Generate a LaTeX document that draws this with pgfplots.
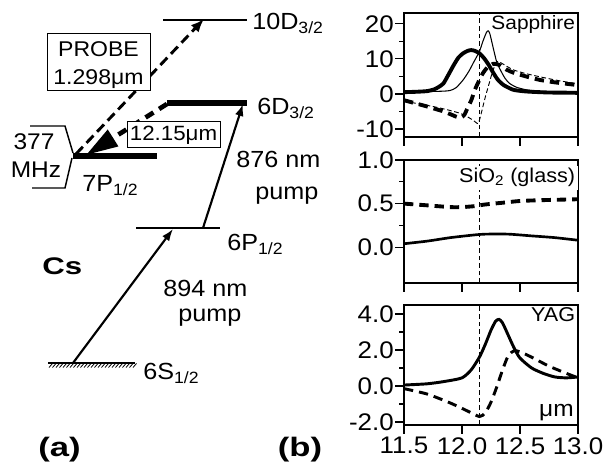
\documentclass[border=0pt]{standalone}
\usepackage{fontspec}
\setmainfont[FakeStretch=1.08]{Liberation Sans}
\newfontfamily\labfont[FakeStretch=1.3]{Liberation Sans}
\usepackage{pgfplots}
\pgfplotsset{compat=1.18}
\usetikzlibrary{arrows.meta}
\newcommand\fs[1]{\fontsize{#1}{#1}\selectfont}
\pgfplotstableread{
x y
11.50 0.5
11.60 0.6
11.70 0.8
11.76 1.3
11.80 2.0
11.84 3.0
11.88 5.3
11.93 8.3
11.97 10.4
12.01 11.6
12.05 12.3
12.08 12.5
12.11 12.3
12.15 11.6
12.19 10.2
12.23 8.3
12.27 6.0
12.31 4.0
12.36 2.5
12.44 1.2
12.52 0.8
12.60 0.6
12.75 0.4
12.90 0.35
13.00 0.3
}\sapThickSolid
\pgfplotstableread{
x y
11.50 0.4
11.65 0.6
11.75 0.7
11.85 0.8
11.90 1.0
11.95 1.8
12.01 4.0
12.06 6.5
12.10 9.0
12.15 12.1
12.18 15.0
12.21 17.5
12.225 18.0
12.24 17.2
12.27 13.0
12.30 9.0
12.33 6.9
12.37 4.5
12.41 3.0
12.47 1.9
12.55 1.2
12.65 0.8
12.80 0.5
13.00 0.4
}\sapThinSolid
\pgfplotstableread{
x y
11.50 -1.8
11.60 -2.7
11.70 -3.6
11.77 -4.3
11.84 -5.0
11.90 -5.8
11.95 -6.5
11.99 -6.8
12.02 -6.0
12.04 -4.6
12.08 -1.8
12.11 1.1
12.15 4.0
12.18 5.9
12.22 7.6
12.27 8.6
12.32 8.3
12.38 7.0
12.44 6.1
12.55 5.0
12.67 4.0
12.80 3.3
13.00 2.5
}\sapThickDash
\pgfplotstableread{
x y
11.50 -2.0
11.62 -2.8
11.75 -3.6
11.87 -4.5
11.98 -5.5
12.05 -6.6
12.10 -7.6
12.14 -8.4
12.17 -5.0
12.20 -1.0
12.23 2.5
12.26 6.0
12.29 8.6
12.31 9.3
12.35 8.6
12.44 6.9
12.55 5.8
12.67 4.9
12.80 4.0
12.90 3.4
13.00 2.9
}\sapThinDash
\pgfplotstableread{
x y
11.5 0.50
11.7 0.48
11.9 0.46
12.0 0.46
12.1 0.47
12.2 0.49
12.35 0.51
12.5 0.53
12.7 0.54
13.0 0.55
}\sioDash
\pgfplotstableread{
x y
11.5 0.04
11.7 0.07
11.9 0.11
12.1 0.14
12.2 0.15
12.4 0.15
12.6 0.13
12.8 0.11
13.0 0.08
}\sioSolid
\pgfplotstableread{
x y
11.50 0.05
11.70 0.12
11.85 0.25
12.00 0.45
12.08 0.9
12.15 1.6
12.20 2.3
12.25 3.1
12.29 3.6
12.32 3.7
12.35 3.5
12.40 2.8
12.45 2.1
12.50 1.55
12.60 1.0
12.70 0.7
12.80 0.5
12.90 0.45
13.00 0.5
}\yagSolid
\pgfplotstableread{
x y
11.50 -0.15
11.70 -0.45
11.90 -0.95
12.05 -1.4
12.15 -1.7
12.20 -1.5
12.25 -0.9
12.30 -0.05
12.35 0.9
12.40 1.7
12.45 1.95
12.50 1.9
12.60 1.6
12.75 1.1
12.90 0.7
13.00 0.45
}\yagDash
\begin{document}
\begin{tikzpicture}[x=0.75pt,y=0.75pt]
\useasboundingbox (0,0) rectangle (608,470);
\pgfplotsset{
  myax/.style={
    scale only axis, width=130.5pt, xmin=11.5, xmax=13,
    xtick={11.5,12,12.5,13}, tick align=outside, tick pos=left,
    major tick length=6.5pt, minor tick length=3.5pt, minor y tick num=1,
    every tick/.style={black, line width=0.9pt},
    axis line style={line width=1.1pt},
    yticklabel style={font=\fs{18}, inner sep=1pt},
    xticklabel style={font=\fs{18}, inner sep=2.5pt},
    anchor=south west,
  },
  thicksolid/.style={black, line width=2.9pt, smooth, tension=0.4},
  thinsolid/.style={black, line width=0.8pt, smooth, tension=0.4},
  thickdash/.style={black, line width=2.9pt, dash pattern=on 7pt off 4.5pt, smooth, tension=0.4},
  thindash/.style={black, line width=0.7pt, dash pattern=on 3.5pt off 2pt, smooth, tension=0.4},
  vline/.style={black, line width=0.7pt, dash pattern=on 3.5pt off 2.2pt},
}
% Sapphire
\begin{axis}[myax, at={(303pt,249.75pt)}, height=93pt, ymin=-12.3, ymax=23.1,
  ytick={-10,0,10,20}, yticklabels={-10,0,10,20}, xticklabels={}]
\addplot[vline] coordinates {(12.15,-12.3) (12.15,23.1)};
\addplot[thinsolid] table {\sapThinSolid};
\addplot[thindash] table {\sapThinDash};
\addplot[thickdash] table {\sapThickDash};
\addplot[thicksolid] table {\sapThickSolid};
\node[anchor=north east, font=\fs{14.5}, inner sep=2pt] at (rel axis cs:1,1) {Sapphire};
\end{axis}
% SiO2
\begin{axis}[myax, at={(303pt,140.25pt)}, height=92.25pt, ymin=-0.41, ymax=1.0,
  ytick={0,0.5,1}, yticklabels={0.0,0.5,1.0}, xticklabels={}]
\addplot[vline] coordinates {(12.15,-0.41) (12.15,1.0)};
\addplot[thickdash] table {\sioDash};
\addplot[black, line width=2pt, smooth, tension=0.4] table {\sioSolid};
\node[anchor=north east, font=\fs{15}, inner sep=2pt, fill=white, yshift=-4pt] at (rel axis cs:1,1) {SiO\textsubscript{2} (glass)};
\end{axis}
% YAG
\begin{axis}[myax, at={(303pt,33.75pt)}, height=90pt, ymin=-2.17, ymax=4.5,
  ytick={-2,0,2,4}, yticklabels={-2.0,0.0,2.0,4.0}, xticklabels={11.5,12.0,12.5,13.0}]
\addplot[vline] coordinates {(12.15,-2.17) (12.15,4.5)};
\addplot[black, line width=2.2pt, smooth, tension=0.4] table {\yagSolid};
\addplot[black, line width=2.2pt, dash pattern=on 7pt off 4.5pt, smooth, tension=0.4] table {\yagDash};
\node[anchor=north east, font=\fs{15}, inner sep=2pt] at (rel axis cs:1,1) {YAG};
\node[anchor=south east, font=\fs{17}, inner sep=3pt] at (rel axis cs:1,0) {μm};
\end{axis}
% ---------- energy level diagram (a)
\draw[line width=1.5pt] (163,450) -- (247,450);
\draw[line width=3.8pt] (167,367) -- (247,367);
\draw[line width=3.8pt] (73,314) -- (157,314);
\draw[line width=1.5pt] (136,242) -- (220,242);
\draw[line width=1.5pt] (48,107) -- (135,107);
\foreach \i in {0,...,24} {\draw[line width=0.6pt] (49+3.5*\i,102.5) -- (52.5+3.5*\i,106.5);}
% level labels
\node[anchor=base west, font=\fs{17.5}, inner sep=0] at (252,440) {10D\textsubscript{3/2}};
\node[anchor=base west, font=\fs{17.5}, inner sep=0] at (257,355) {6D\textsubscript{3/2}};
\node[anchor=base west, font=\fs{17.5}, inner sep=0] at (82,278) {7P\textsubscript{1/2}};
\node[anchor=base west, font=\fs{17.5}, inner sep=0] at (227,219) {6P\textsubscript{1/2}};
\node[anchor=base west, font=\fs{17.5}, inner sep=0] at (143,90) {6S\textsubscript{1/2}};
% hyperfine bracket
\draw[line width=1.1pt] (30,344) -- (65,344) -- (73,317);
\draw[line width=1.1pt] (32,282) -- (65,282) -- (72,312);
\node[anchor=base, font=\fs{17}, inner sep=0] at (34,320) {377};
\node[anchor=base, font=\fs{17}, inner sep=0] at (36,292) {MHz};
% probe arrow
\draw[line width=2.2pt, dash pattern=on 7.5pt off 4pt, -{Latex[length=10pt,width=8pt]}] (76,316) -- (204,451);
% probe box
\draw[line width=0.7pt, fill=white] (47,380) rectangle (150,437);
\node[anchor=base, font=\fs{16}, inner sep=0] at (98.5,413) {PROBE};
\node[anchor=base, font=\fs{16}, inner sep=0] at (98.5,385) {1.298μm};
% 12.15 um arrow
\draw[line width=3.5pt, dash pattern=on 7pt off 5pt, -{Triangle[length=24pt,width=14pt]}] (167,366) -- (86,315);
\draw[line width=0.7pt, fill=white] (127,323) rectangle (220,349);
\node[anchor=base, font=\fs{15.5}, inner sep=0] at (173.5,329) {12.15μm};
% pump arrows
\draw[line width=1.6pt, -{Latex[length=9pt,width=6.5pt]}] (203,242) -- (243,366);
\draw[line width=1.6pt, -{Latex[length=9pt,width=6.5pt]}] (73,107) -- (173,241);
\node[anchor=base west, font=\fs{17.5}, inner sep=0] at (236,302) {876 nm};
\node[anchor=base west, font=\fs{17.5}, inner sep=0] at (255,270) {pump};
\node[anchor=base west, font=\fs{17.5}, inner sep=0] at (163,173) {894 nm};
\node[anchor=base west, font=\fs{17.5}, inner sep=0] at (178,148) {pump};
\node[anchor=base west, font=\labfont\bfseries\fs{18}, inner sep=0] at (42,195) {Cs};
\node[anchor=base, font=\labfont\bfseries\fs{20}, inner sep=0] at (59.5,13) {(a)};
\node[anchor=base, font=\labfont\bfseries\fs{20}, inner sep=0] at (300,13) {(b)};
\end{tikzpicture}
\end{document}
